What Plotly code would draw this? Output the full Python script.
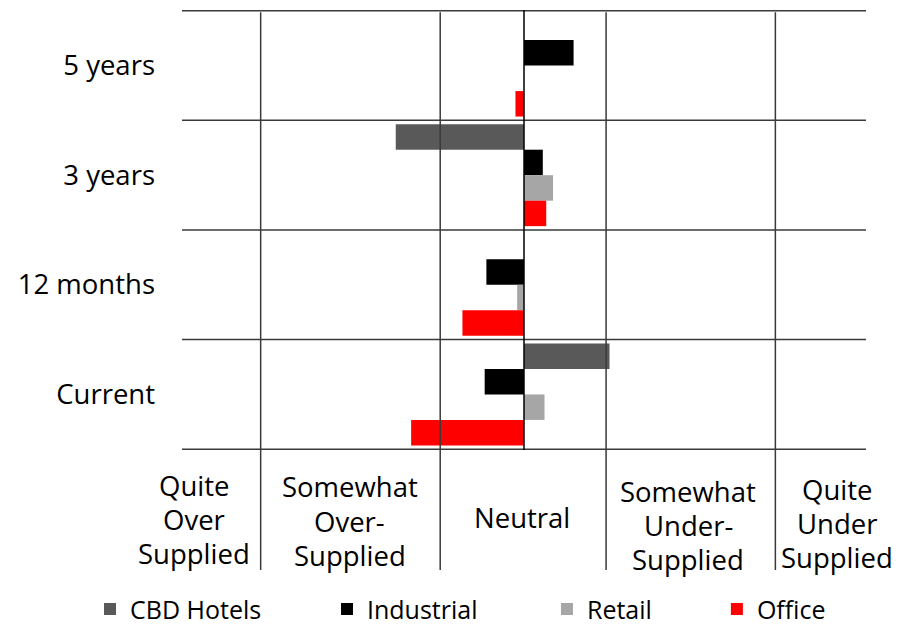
import plotly.graph_objects as go

# Survey horizons (top to bottom) and sector series
horizons = ["5 years", "3 years", "12 months", "Current"]
series_names = ["CBD Hotels", "Industrial", "Retail", "Office"]
series_colors = ["#595959", "#000000", "#a6a6a6", "#ff0000"]

# Average supply sentiment per horizon (negative = over-supplied)
cbd_hotels = [0.0, -0.75, 0.0, 0.50]
industrial = [0.29, 0.11, -0.22, -0.23]
retail = [0.0, 0.17, -0.04, 0.12]
office = [-0.05, 0.13, -0.36, -0.66]
series_values = [cbd_hotels, industrial, retail, office]

# Band boundaries on the sentiment scale and the band labels under the plot
band_edges = [-1.54, -0.49, 0.48, 1.47]
band_labels = [["Quite", "Over", "Supplied"],
               ["Somewhat", "Over-", "Supplied"],
               ["Neutral"],
               ["Somewhat", "Under-", "Supplied"],
               ["Quite", "Under", "Supplied"]]
band_label_x = [-1.93, -1.02, -0.01, 0.96, 1.83]

X_MIN, X_MAX = -2.0, 2.0
FONT = "Open Sans, Noto Sans, sans-serif"
LINE = "#3a3a3a"

# plot-area geometry (px) used to place the band label lines
PLOT_TOP, PLOT_BOTTOM = 10, 450
PLOT_H = PLOT_BOTTOM - PLOT_TOP
band_label_center_px = [519, 521, 517, 525, 523]
LINE_STEP_PX = 34

# one legend box per series so the entries sit at their own positions
legend_ids = ["legend", "legend2", "legend3", "legend4"]
legend_x = [-0.1345, 0.212, 0.5336, 0.782]

fig = go.Figure()
for name, color, vals, lid in zip(series_names, series_colors, series_values, legend_ids):
    fig.add_trace(go.Bar(
        name=name, y=horizons, x=vals, orientation="h",
        marker=dict(color=color, line=dict(width=0)),
        legend=lid,
    ))

shapes = []
# horizontal separators between horizons
for i in range(len(horizons) + 1):
    shapes.append(dict(type="line", xref="x", yref="y", x0=X_MIN, x1=X_MAX,
                       y0=i - 0.5, y1=i - 0.5, line=dict(color=LINE, width=1.5)))
# band boundaries, continuing down through the label area
for e in band_edges:
    shapes.append(dict(type="line", xref="x", yref="paper", x0=e, x1=e,
                       y0=-0.273, y1=0.995, line=dict(color=LINE, width=1.5)))
# zero line
shapes.append(dict(type="line", xref="x", yref="paper", x0=0, x1=0,
                   y0=0, y1=1, line=dict(color="#000000", width=1.5)))

annotations = []
for lines, xv, cpx in zip(band_labels, band_label_x, band_label_center_px):
    n = len(lines)
    for k, line_txt in enumerate(lines):
        ypx = cpx + (k - (n - 1) / 2) * LINE_STEP_PX
        annotations.append(dict(text=line_txt, x=xv, y=(PLOT_BOTTOM - ypx) / PLOT_H,
                                xref="x", yref="paper", showarrow=False,
                                xanchor="center", yanchor="middle",
                                font=dict(size=27.5, color="#000000", family=FONT)))

legend_style = dict(orientation="h", y=-0.362, yanchor="middle", xanchor="left",
                    font=dict(size=25, family=FONT, color="#000000"),
                    bgcolor="rgba(0,0,0,0)", borderwidth=0)

fig.update_layout(
    width=906, height=625,
    margin=dict(l=182, r=40, t=10, b=175, autoexpand=False),
    paper_bgcolor="white", plot_bgcolor="white",
    barmode="group", bargap=0.07, bargroupgap=0,
    font=dict(family=FONT, size=26, color="#000000"),
    xaxis=dict(range=[X_MIN, X_MAX], showgrid=False, zeroline=False,
               showticklabels=False, ticks="", fixedrange=True),
    yaxis=dict(categoryorder="array", categoryarray=horizons, autorange="reversed",
               showgrid=False, zeroline=False, ticks="", ticklabelstandoff=26,
               tickfont=dict(size=27.5, family=FONT), fixedrange=True),
    shapes=shapes,
    annotations=annotations,
    showlegend=True,
    legend=dict(x=legend_x[0], **legend_style),
    legend2=dict(x=legend_x[1], **legend_style),
    legend3=dict(x=legend_x[2], **legend_style),
    legend4=dict(x=legend_x[3], **legend_style),
)

fig.write_html("out.html")
